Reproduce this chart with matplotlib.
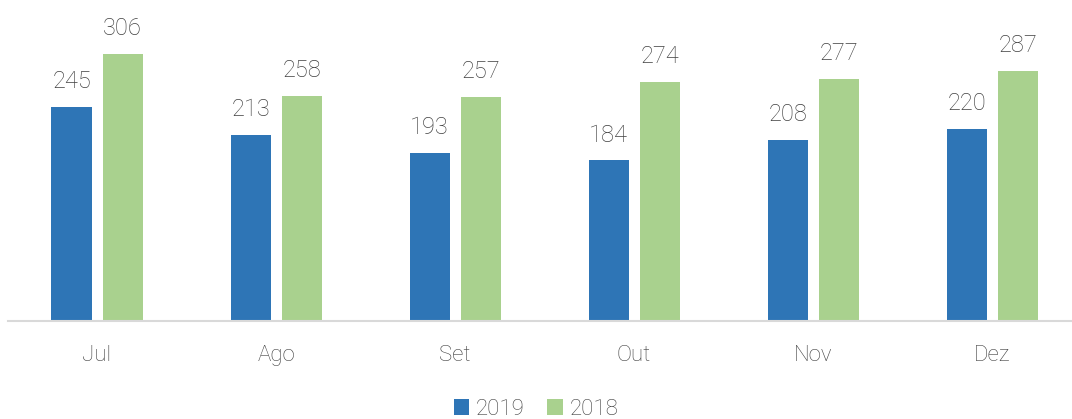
import matplotlib.pyplot as plt
import numpy as np

months = ['Jul', 'Ago', 'Set', 'Out', 'Nov', 'Dez']
v2019 = [245, 213, 193, 184, 208, 220]
v2018 = [306, 258, 257, 274, 277, 287]

blue = '#2E75B6'
green = '#A9D18E'
txt = '#404040'

plt.rcParams['font.family'] = ['Roboto', 'DejaVu Sans']
plt.rcParams['font.weight'] = 'light'

fig = plt.figure(figsize=(10.72, 4.19), dpi=100)
ax = fig.add_axes([0.007, 0.234, 1.002, 0.766])

x = np.arange(len(months))
w = 0.2235
off = 0.1425
b1 = ax.bar(x - off, v2019, w, color=blue, label='2019')
b2 = ax.bar(x + off, v2018, w, color=green, label='2018')

for bars, vals in ((b1, v2019), (b2, v2018)):
    for b, v in zip(bars, vals):
        ax.annotate(str(v), (b.get_x() + b.get_width() / 2, v),
                    xytext=(0, 10), textcoords='offset points',
                    ha='center', va='bottom', fontsize=17, color=txt)

ax.set_xlim(-0.5, len(months) - 0.5)
ax.set_ylim(0, 368)
ax.set_xticks(x)
ax.set_xticklabels(months, fontsize=16, color=txt)
ax.tick_params(axis='x', length=0, pad=17)
ax.set_yticks([])
for s in ['top', 'right', 'left']:
    ax.spines[s].set_visible(False)
ax.spines['bottom'].set_color('#D9D9D9')
ax.spines['bottom'].set_linewidth(1.5)

leg = fig.legend(loc='lower center', bbox_to_anchor=(0.5, -0.05), ncol=2,
                 frameon=False, fontsize=16, handlelength=0.7, handleheight=0.7,
                 handletextpad=0.3, columnspacing=1.0)
for t in leg.get_texts():
    t.set_color(txt)

fig.savefig('out.png', dpi=100)
